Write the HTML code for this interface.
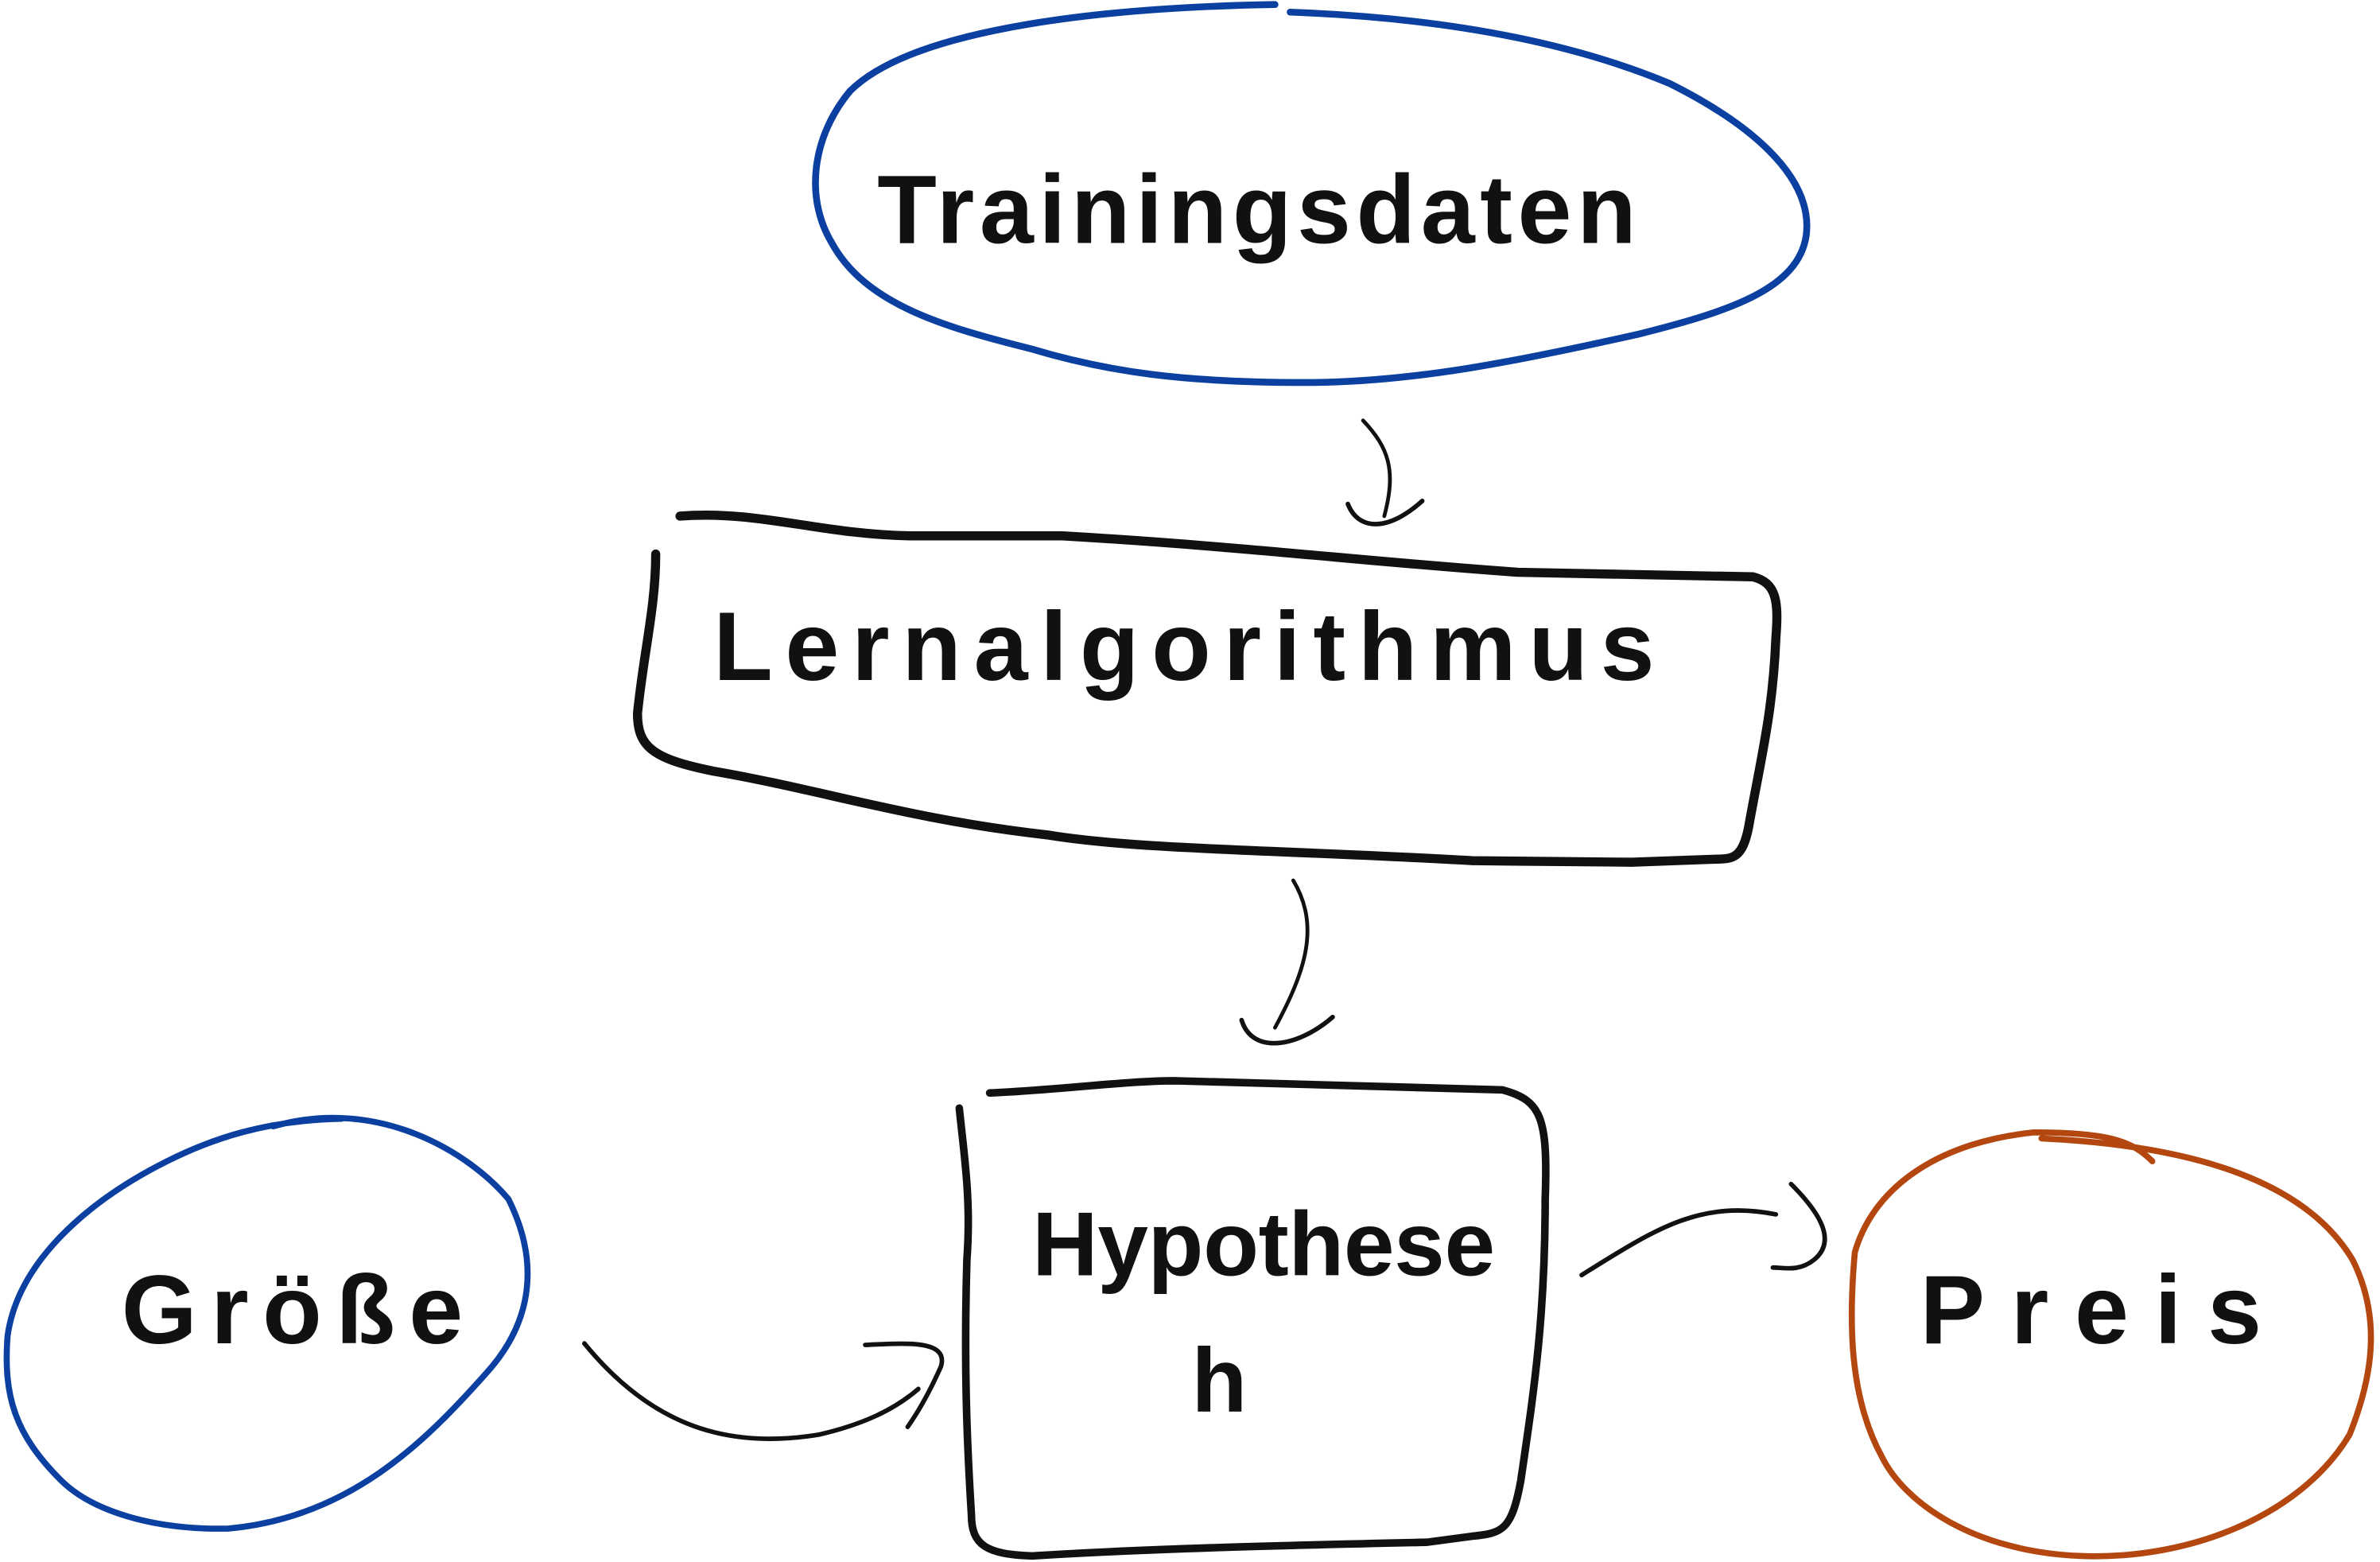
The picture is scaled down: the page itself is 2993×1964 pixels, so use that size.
<!DOCTYPE html>
<html><head><meta charset="utf-8"><style>
html,body{margin:0;padding:0;background:#fff;width:2993px;height:1964px;overflow:hidden}
svg{display:block}
text{font-family:"Liberation Sans","DejaVu Sans",sans-serif;font-weight:bold;fill:#111}
</style></head><body>
<svg width="2993" height="1964" viewBox="0 0 1568 1029" preserveAspectRatio="none">
<g fill="none" stroke-linecap="round" stroke-linejoin="round">
<!-- top ellipse -->
<path d="M850,8 C960,12 1040,30 1100,55 C1150,80 1195,115 1190,155 C1185,190 1140,205 1080,220 C1000,238 930,252 860,252 C780,252 730,245 680,230 C620,215 570,200 548,160 C530,130 535,90 560,60 C600,20 720,5 840,3" stroke="#0b3fa0" stroke-width="4.5"/>
<!-- Lernalgorithmus box -->
<path d="M448,340 C500,336 540,352 600,353 L700,353 C820,360 900,370 1000,377 L1155,380 C1170,384 1172,395 1170,420 C1168,470 1160,500 1152,545 C1148,565 1142,566 1130,566 L1075,568 L970,567 C850,560 750,560 690,550 C600,540 540,520 470,508 C430,500 420,492 420,470 C424,430 432,400 432,365" stroke="#111" stroke-width="6"/>
<!-- Hypothese box -->
<path d="M652,720 C700,718 740,712 775,712 L990,718 C1015,725 1020,735 1018,790 C1018,870 1010,920 1002,975 C996,1008 990,1010 970,1012 L940,1016 C850,1018 760,1020 680,1025 C650,1024 640,1018 640,998 C637,950 635,900 637,830 C640,790 635,760 632,730" stroke="#111" stroke-width="5"/>
<!-- Größe ellipse -->
<path d="M180,742 C250,722 310,760 335,790 C355,830 352,870 320,905 C280,950 230,1000 150,1007 C100,1008 60,995 40,975 C10,945 2,920 5,880 C12,830 60,790 110,765 C140,750 175,738 225,737" stroke="#0b3fa0" stroke-width="4"/>
<!-- Preis ellipse -->
<path d="M1345,750 C1450,755 1520,780 1550,830 C1570,870 1562,910 1548,945 C1515,1000 1440,1028 1370,1025 C1300,1022 1255,990 1240,960 C1218,920 1218,870 1222,825 C1235,780 1280,752 1340,746 C1390,746 1405,752 1418,765" stroke="#b3470f" stroke-width="4"/>
<!-- arrows -->
<path d="M898,277 C915,295 920,310 912,340" stroke="#111" stroke-width="2.5"/>
<path d="M888,332 C895,350 915,350 937,330" stroke="#111" stroke-width="3"/>
<path d="M852,580 C870,610 860,640 840,677" stroke="#111" stroke-width="2.5"/>
<path d="M818,672 C825,695 855,690 878,670" stroke="#111" stroke-width="3"/>
<path d="M385,885 C430,940 480,955 540,945 C570,938 590,928 605,915" stroke="#111" stroke-width="3"/>
<path d="M570,886 C595,885 625,882 620,900 C612,918 605,930 598,940" stroke="#111" stroke-width="3"/>
<path d="M1042,840 C1090,810 1120,790 1170,800" stroke="#111" stroke-width="3"/>
<path d="M1180,780 C1200,800 1210,818 1195,830 C1185,838 1175,835 1168,835" stroke="#111" stroke-width="3"/>
</g>
<text x="578" y="160" font-size="64" textLength="500" lengthAdjust="spacing">Trainingsdaten</text>
<text x="470" y="448" font-size="64" textLength="620" lengthAdjust="spacing">Lernalgorithmus</text>
<text x="680" y="840" font-size="60" textLength="305" lengthAdjust="spacing">Hypothese</text>
<text x="785" y="930" font-size="60">h</text>
<text x="80" y="885" font-size="64" textLength="225" lengthAdjust="spacing">Größe</text>
<text x="1265" y="885" font-size="64" textLength="225" lengthAdjust="spacing">Preis</text>
</svg>
</body></html>
